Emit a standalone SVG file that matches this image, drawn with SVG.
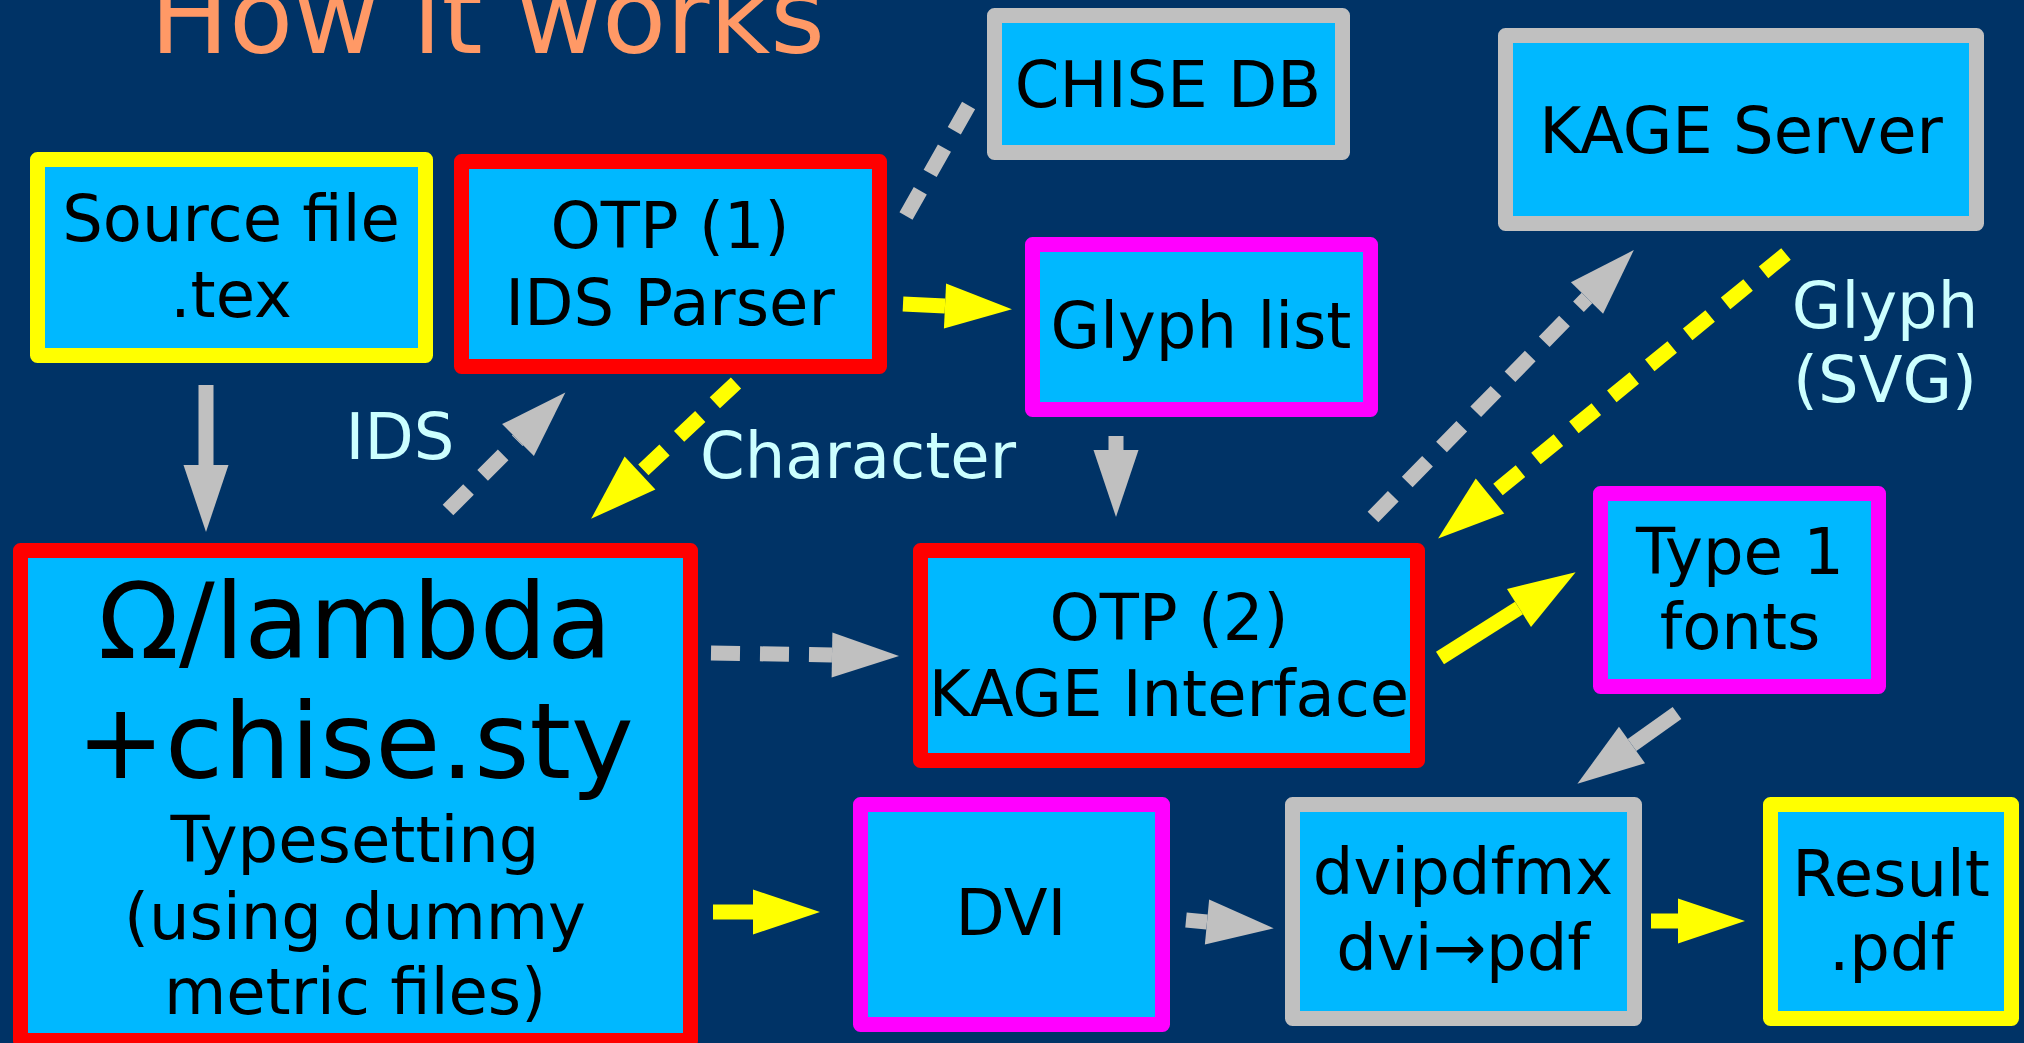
<svg xmlns="http://www.w3.org/2000/svg" width="2024" height="1043" viewBox="0 0 2024 1043">
  <defs>
    <style>
      .box { fill: #00B8FF; stroke-width: 15; stroke-linejoin: round; }
      .red { stroke: #FF0000; }
      .yel { stroke: #FFFF00; }
      .mag { stroke: #FF00FF; }
      .gry { stroke: #C0C0C0; }
      .t { font-family: "DejaVu Sans", "Liberation Sans", sans-serif; font-size: 64px; fill: #000000; text-anchor: middle; }
      .big { font-size: 106px; }
      .lbl { font-family: "DejaVu Sans", "Liberation Sans", sans-serif; font-size: 64px; fill: #CCFFFF; }
      .cg { stroke: #C0C0C0; stroke-width: 15; fill: none; }
      .cy { stroke: #FFFF00; stroke-width: 15; fill: none; }
      .dash { stroke-dasharray: 29 20; }
      .ag { marker-end: url(#hg); }
      .ay { marker-end: url(#hy); }
    </style>
    <marker id="hg" markerUnits="userSpaceOnUse" markerWidth="67" markerHeight="45" refX="0" refY="22.5" orient="auto" overflow="visible">
      <path d="M0,0 L67,22.5 L0,45 Z" fill="#C0C0C0"/>
    </marker>
    <marker id="hy" markerUnits="userSpaceOnUse" markerWidth="67" markerHeight="45" refX="0" refY="22.5" orient="auto" overflow="visible">
      <path d="M0,0 L67,22.5 L0,45 Z" fill="#FFFF00"/>
    </marker>
  </defs>
  <rect x="0" y="0" width="2024" height="1043" fill="#003366"/>
  <text x="150" y="53" font-family="DejaVu Sans, Liberation Sans, sans-serif" font-size="105" fill="#FF9966">How it works</text>

  <g id="connectors">
    <line class="cg ag" x1="206" y1="385" x2="206" y2="465"/>
    <line class="cg dash ag" x1="448" y1="510" x2="518" y2="440"/>
    <line class="cy dash ay" x1="736" y1="383" x2="640" y2="473"/>
    <line class="cy ay" x1="903" y1="304" x2="945" y2="306"/>
    <line class="cg dash" x1="906" y1="216" x2="970" y2="103"/>
    <line class="cg ag" x1="1116" y1="436" x2="1116" y2="450"/>
    <line class="cg dash ag" x1="711" y1="653" x2="832" y2="655"/>
    <line class="cg dash ag" x1="1373" y1="517" x2="1587" y2="298"/>
    <line class="cy dash ay" x1="1786" y1="254" x2="1490" y2="496"/>
    <line class="cy ay" x1="1440" y1="658" x2="1519" y2="608"/>
    <line class="cg ag" x1="1677" y1="713" x2="1632" y2="745"/>
    <line class="cy ay" x1="713" y1="912" x2="753" y2="912"/>
    <line class="cg ag" x1="1186" y1="920" x2="1207" y2="922"/>
    <line class="cy ay" x1="1651" y1="921" x2="1678" y2="921"/>
    <text class="lbl" x="400" y="459" text-anchor="middle">IDS</text>
    <text class="lbl" x="700" y="478">Character</text>
    <text class="lbl" x="1885" y="328" text-anchor="middle">Glyph</text>
    <text class="lbl" x="1885" y="402" text-anchor="middle">(SVG)</text>
  </g>

  <g id="source">
    <rect class="box yel" x="37.5" y="159.5" width="388" height="196"/>
    <text class="t" x="231" y="241">Source file</text>
    <text class="t" x="231" y="317">.tex</text>
  </g>
  <g id="otp1">
    <rect class="box red" x="461.5" y="161.5" width="418" height="205"/>
    <text class="t" x="670" y="248">OTP (1)</text>
    <text class="t" x="670" y="325">IDS Parser</text>
  </g>
  <g id="chisedb">
    <rect class="box gry" x="994.5" y="15.5" width="348" height="137"/>
    <text class="t" x="1168" y="107">CHISE DB</text>
  </g>
  <g id="glyphlist">
    <rect class="box mag" x="1032.5" y="244.5" width="338" height="165"/>
    <text class="t" x="1201" y="348">Glyph list</text>
  </g>
  <g id="kageserver">
    <rect class="box gry" x="1505.5" y="35.5" width="471" height="188"/>
    <text class="t" x="1741" y="153">KAGE Server</text>
  </g>
  <g id="omega">
    <rect class="box red" x="20.5" y="550.5" width="670" height="490"/>
    <text class="t big" x="355" y="658">Ω/lambda</text>
    <text class="t big" x="355" y="778">+chise.sty</text>
    <text class="t" x="355" y="862">Typesetting</text>
    <text class="t" x="355" y="939">(using dummy</text>
    <text class="t" x="355" y="1014">metric files)</text>
  </g>
  <g id="otp2">
    <rect class="box red" x="920.5" y="550.5" width="497" height="210"/>
    <text class="t" x="1169" y="640">OTP (2)</text>
    <text class="t" x="1169" y="716">KAGE Interface</text>
  </g>
  <g id="type1">
    <rect class="box mag" x="1600.5" y="493.5" width="278" height="193"/>
    <text class="t" x="1740" y="574">Type 1</text>
    <text class="t" x="1740" y="649">fonts</text>
  </g>
  <g id="dvi">
    <rect class="box mag" x="860.5" y="804.5" width="302" height="220"/>
    <text class="t" x="1011" y="935">DVI</text>
  </g>
  <g id="dvipdfmx">
    <rect class="box gry" x="1292.5" y="804.5" width="342" height="214"/>
    <text class="t" x="1463" y="894">dvipdfmx</text>
    <text class="t" x="1463" y="970">dvi→pdf</text>
  </g>
  <g id="result">
    <rect class="box yel" x="1770.5" y="804.5" width="241" height="214"/>
    <text class="t" x="1891" y="896">Result</text>
    <text class="t" x="1891" y="970">.pdf</text>
  </g>
</svg>
